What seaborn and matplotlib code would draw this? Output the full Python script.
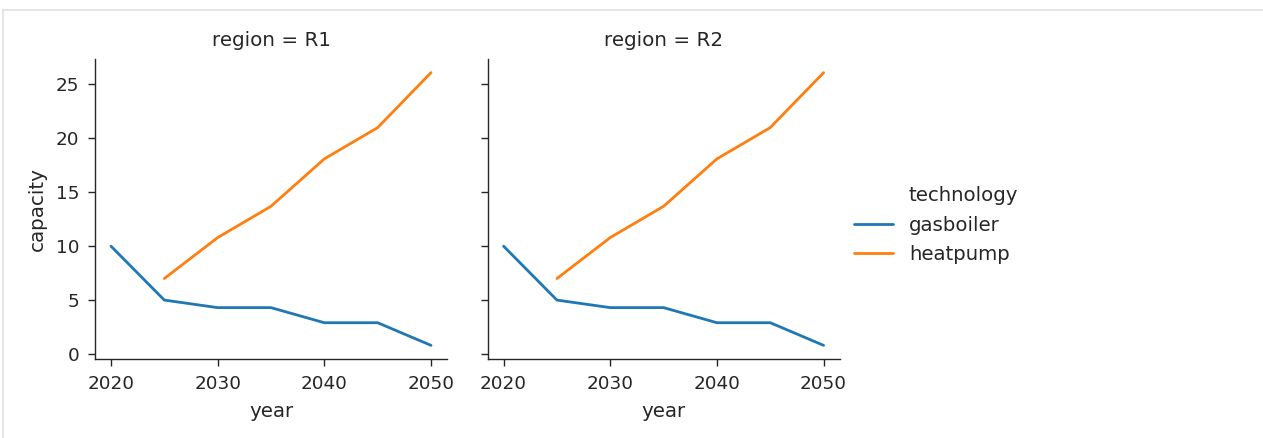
import numpy as np
import pandas as pd
import matplotlib
matplotlib.use("Agg")
import matplotlib.pyplot as plt
from matplotlib.lines import Line2D
import seaborn as sns


# ==============================================================================
# DATA
# ==============================================================================
regions = ["R1", "R2"]
technologies = ["gasboiler", "heatpump"]
years = [2020, 2025, 2030, 2035, 2040, 2045, 2050]
gasboiler_capacity = [10.0, 5.0, 4.3, 4.3, 2.9, 2.9, 0.8]
heatpump_capacity = [np.nan, 7.0, 10.8, 13.7, 18.1, 21.0, 26.1]


def build_frame():
    """Long-format table: one row per region / technology / year."""
    rows = []
    series = dict(zip(technologies, [gasboiler_capacity, heatpump_capacity]))
    for region in regions:
        for tech in technologies:
            for year, value in zip(years, series[tech]):
                if np.isnan(value):
                    continue
                rows.append({"region": region, "technology": tech,
                             "year": year, "capacity": value})
    return pd.DataFrame(rows)


# ==============================================================================
# PLOT
# ==============================================================================
def main():
    sns.set_theme(style="ticks", palette="tab10")
    plt.rcParams["font.family"] = ["DejaVu Sans"]
    plt.rcParams.update({
        "text.color": ".15",
        "axes.labelcolor": ".15",
        "xtick.color": ".15",
        "ytick.color": ".15",
        "axes.edgecolor": ".15",
        "axes.linewidth": 1.0,
        "xtick.major.size": 5,
        "ytick.major.size": 5,
        "xtick.major.width": 1.0,
        "ytick.major.width": 1.0,
        "xtick.major.pad": 6.5,
        "ytick.major.pad": 6.5,
        "xtick.labelsize": 13.2,
        "ytick.labelsize": 13.2,
        "axes.labelsize": 14.3,
        "axes.titlesize": 14.6,
        "legend.fontsize": 14.2,
        "lines.linewidth": 2.0,
    })

    df = build_frame()
    g = sns.relplot(
        data=df, x="year", y="capacity", hue="technology", col="region",
        kind="line", height=4, aspect=1.0, palette="tab10",
    )

    fig = g.figure
    fig.set_size_inches(12.63, 4.38)
    W, H = 1263, 438
    for ax, x0 in zip(g.axes.flat, [95, 487.6]):
        ax.set_position([x0 / W, (H - 359) / H, 352 / W, 300 / H])
        ax.set_xticks([2020, 2030, 2040, 2050])
        ax.set_yticks([0, 5, 10, 15, 20, 25])
        ax.xaxis.labelpad = 6.5
        ax.yaxis.labelpad = 6.5
    g.set_titles("region = {col_name}", pad=9)

    # legend in the old style: hue name as a first entry with an empty handle
    old = g._legend
    handles = [Line2D([], [], color="none")] + list(old.legend_handles)
    labels = ["technology"] + [t.get_text() for t in old.texts]
    old.remove()
    fig.legend(handles, labels, loc="center left",
               bbox_to_anchor=(836 / W, 1 - 225 / H),
               frameon=False, handlelength=2.0, labelspacing=0.55)

    # output-cell border lines from the notebook screenshot
    fig.add_artist(Line2D([3 / W, 1], [1 - 9.5 / H, 1 - 9.5 / H],
                          color="#e0e0e0", lw=1.2, transform=fig.transFigure))
    fig.add_artist(Line2D([3 / W, 3 / W], [0, 1 - 9.5 / H],
                          color="#e0e0e0", lw=1.2, transform=fig.transFigure))

    fig.savefig("out.png", dpi=100)


if __name__ == "__main__":
    main()
